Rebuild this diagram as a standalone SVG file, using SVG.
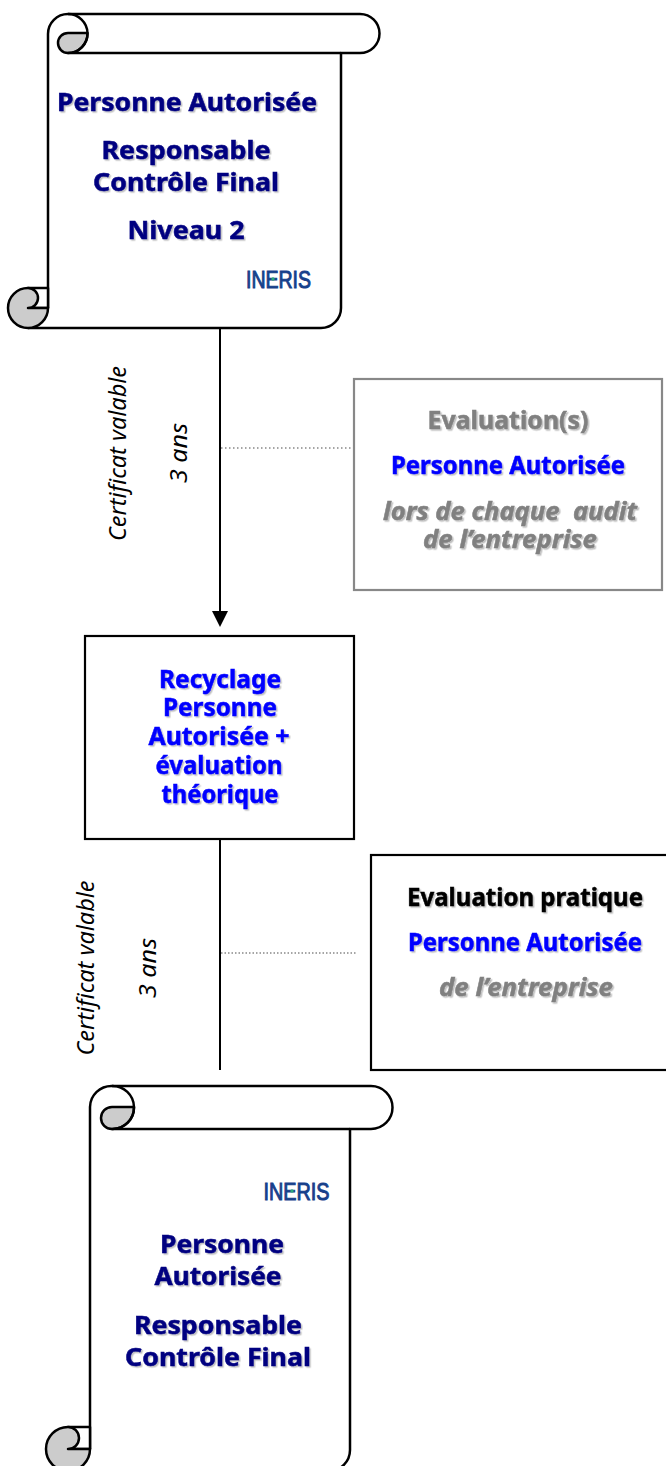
<svg xmlns="http://www.w3.org/2000/svg" width="666" height="1466" viewBox="0 0 666 1466">
<defs>
<filter id="sh" x="-10%" y="-30%" width="120%" height="160%"><feDropShadow dx="1.500" dy="1.500" stdDeviation="0.500" flood-color="#000" flood-opacity="0.25"/></filter>
</defs>
<style>
.ln{fill:none;stroke:#000;stroke-width:2}
.sc{fill:#fff;stroke:#000;stroke-width:2.500;stroke-linejoin:round}
.cu{fill:#ccc;stroke:#000;stroke-width:2.500;stroke-linejoin:round}
text{font-family:"Noto Sans","DejaVu Sans",sans-serif;text-anchor:middle}
.t{font-weight:700;font-size:24.500px;filter:url(#sh);stroke-width:.5}
.n{fill:#000080;stroke:#000080}.b{fill:#0000ff;stroke:#0000ff}.g{fill:#808080;stroke:#808080}.k{fill:#000;stroke:#000}
.i{font-style:italic}
.r{font-style:italic;font-size:23px;fill:#000}
.logo{font-family:"Liberation Sans",sans-serif;font-size:24px;fill:#17408b;stroke:#17408b;stroke-width:1}
.dot{fill:#2aa87a}
</style>
<g id="connectors">
<line class="ln" x1="220" y1="328" x2="220" y2="612"/>
<polygon points="212,611 228,611 220,627" fill="#000"/>
<line x1="221" y1="448" x2="353" y2="448" stroke="#888" stroke-width="1.500" stroke-dasharray="1.500 2.500"/>
<line class="ln" x1="220" y1="839" x2="220" y2="1070"/>
<line x1="221" y1="953" x2="356" y2="953" stroke="#888" stroke-width="1.500" stroke-dasharray="1.500 2"/>
</g>
<g id="scroll-top">
<path class="sc" d="M48 308V34A20 20 0 0 1 68 14H360A19.500 19.500 0 0 1 360 53H341V308A20 20 0 0 1 321 328H28"/>
<path class="sc" d="M28 288H48V308H28Z"/>
<path class="cu" d="M68 33H87.500A19.500 19.500 0 0 1 68 53A10 10 0 0 1 68 33Z"/>
<path class="sc" style="fill:none" d="M68 14A19.500 19.500 0 0 1 87.500 33A19.500 19.500 0 0 1 68 53H341"/>
<path class="cu" d="M28 288A20 20 0 1 0 48 308H28A10 10 0 0 0 28 288Z"/>
<text class="t n" x="187" y="111" textLength="260" lengthAdjust="spacingAndGlyphs">Personne Autorisée</text>
<text class="t n" x="186" y="159" textLength="169" lengthAdjust="spacingAndGlyphs">Responsable</text>
<text class="t n" x="186" y="191" textLength="186" lengthAdjust="spacingAndGlyphs">Contrôle Final</text>
<text class="t n" x="186" y="239" textLength="117" lengthAdjust="spacingAndGlyphs">Niveau 2</text>
<text class="logo" x="278.500" y="288" textLength="65" lengthAdjust="spacingAndGlyphs">INERIS</text>
<circle class="dot" cx="273" cy="279" r="1.700"/>
</g>
<g id="box-evaluation">
<rect x="354" y="379" width="308" height="211" fill="#fff" stroke="#888" stroke-width="2.200"/>
<text class="t g" x="508" y="429" textLength="161" lengthAdjust="spacingAndGlyphs">Evaluation(s)</text>
<text class="t b" x="508" y="474" textLength="234" lengthAdjust="spacingAndGlyphs">Personne Autorisée</text>
<text class="t g i" x="510" y="520" textLength="254" lengthAdjust="spacingAndGlyphs" xml:space="preserve">lors de chaque  audit</text>
<text class="t g i" x="510" y="548" textLength="174" lengthAdjust="spacingAndGlyphs">de l’entreprise</text>
</g>
<g id="label-top">
<text class="r" transform="translate(126 453.500) rotate(-90)" textLength="175" lengthAdjust="spacingAndGlyphs">Certificat valable</text>
<text class="r" transform="translate(187 453) rotate(-90)" textLength="60" lengthAdjust="spacingAndGlyphs">3 ans</text>
</g>
<g id="box-recyclage">
<rect x="85" y="636" width="269" height="203" fill="#fff" stroke="#000" stroke-width="2.200"/>
<text class="t b" x="220" y="688" textLength="122" lengthAdjust="spacingAndGlyphs">Recyclage</text>
<text class="t b" x="220" y="716" textLength="114" lengthAdjust="spacingAndGlyphs">Personne</text>
<text class="t b" x="219" y="745" textLength="141" lengthAdjust="spacingAndGlyphs">Autorisée +</text>
<text class="t b" x="219" y="774" textLength="127" lengthAdjust="spacingAndGlyphs">évaluation</text>
<text class="t b" x="220" y="803" textLength="117" lengthAdjust="spacingAndGlyphs">théorique</text>
</g>
<g id="box-pratique">
<rect x="371" y="855" width="300" height="215" fill="#fff" stroke="#000" stroke-width="2.200"/>
<text class="t k" x="525" y="906" textLength="236" lengthAdjust="spacingAndGlyphs">Evaluation pratique</text>
<text class="t b" x="525" y="951" textLength="234" lengthAdjust="spacingAndGlyphs">Personne Autorisée</text>
<text class="t g i" x="526" y="996" textLength="174" lengthAdjust="spacingAndGlyphs">de l’entreprise</text>
</g>
<g id="label-bottom">
<text class="r" transform="translate(94 968) rotate(-90)" textLength="175" lengthAdjust="spacingAndGlyphs">Certificat valable</text>
<text class="r" transform="translate(156 968) rotate(-90)" textLength="60" lengthAdjust="spacingAndGlyphs">3 ans</text>
</g>
<g id="scroll-bottom">
<path class="sc" d="M90 1449V1107A21.500 21.500 0 0 1 112 1086H371A21.500 21.500 0 0 1 371 1129H350V1450A21 21 0 0 1 329 1471H68"/>
<path class="sc" d="M68 1427H90V1449H68Z"/>
<path class="cu" d="M112 1107H134A21.500 21.500 0 0 1 112 1129A11 11 0 0 1 112 1107Z"/>
<path class="sc" style="fill:none" d="M112 1086A21.500 21.500 0 0 1 134 1107A21.500 21.500 0 0 1 112 1129H350"/>
<path class="cu" d="M68 1427A22 22 0 1 0 90 1449H68A11 11 0 0 0 68 1427Z"/>
<text class="logo" x="296.500" y="1200" textLength="66" lengthAdjust="spacingAndGlyphs">INERIS</text>
<circle class="dot" cx="292" cy="1191" r="1.700"/>
<text class="t n" x="222" y="1253" textLength="124" lengthAdjust="spacingAndGlyphs">Personne</text>
<text class="t n" x="218" y="1285" textLength="127" lengthAdjust="spacingAndGlyphs">Autorisée</text>
<text class="t n" x="218" y="1334" textLength="168" lengthAdjust="spacingAndGlyphs">Responsable</text>
<text class="t n" x="218" y="1366" textLength="186" lengthAdjust="spacingAndGlyphs">Contrôle Final</text>
</g>
</svg>
